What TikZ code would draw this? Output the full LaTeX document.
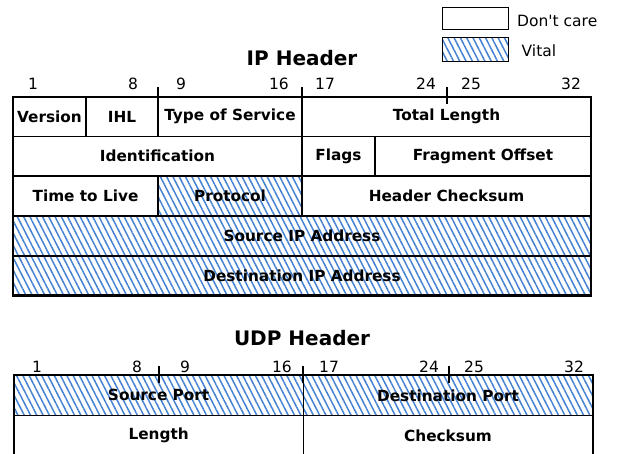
\documentclass[tikz,border=0pt]{standalone}
\usepackage{fontspec}
\setmainfont{DejaVu Sans}[Ligatures=TeXOff]
\usetikzlibrary{patterns.meta}
\definecolor{hatchblue}{RGB}{70,130,210}
\tikzset{
  lab/.style={font=\bfseries\fontsize{15.3}{18}\selectfont, inner sep=0pt},
  num/.style={font=\fontsize{15.5}{18}\selectfont, inner sep=0pt, anchor=base},
  ttl/.style={font=\bfseries\fontsize{20}{23}\selectfont, inner sep=0pt},
  cellline/.style={draw=black, line width=1.2pt},
  vital/.style={pattern={Lines[angle=-63,distance=5.6pt,line width=1.5pt]}, pattern color=hatchblue},
  outerline/.style={draw=black, line width=2.2pt},
  tickline/.style={draw=black, line width=2pt},
  legbox/.style={draw=black, line width=1pt},
}
\newcommand\fld[7]{%
  \path[#6] (#2,#3) rectangle (#4,#5);
  \node[lab] (#1) at ({(#2+#4)/2},{(#3+#5)/2}) {#7};}
\begin{document}
\begin{tikzpicture}[x=1pt,y=-1pt]
\useasboundingbox (0,0) rectangle (621,454);
% legend
\path[legbox] (442,8) rectangle (508,30);
\node[num, anchor=base west] (lgdc) at (517,26.5) {Don't care};
\path[vital,legbox] (442,38) rectangle (508,62);
\node[num, anchor=base west] (lgvt) at (521.5,56.5) {Vital};
% IP header
\node[ttl] (iptitle) at (302,58) {IP Header};
\node[num] (ip1) at (33,90) {1};
\node[num] (ip8) at (133,90) {8};
\node[num] (ip9) at (181,90) {9};
\node[num] (ip16) at (279,90) {16};
\node[num] (ip17) at (325,90) {17};
\node[num] (ip24) at (426,90) {24};
\node[num] (ip25) at (471,90) {25};
\node[num] (ip32) at (571,90) {32};
\fld{ver}{13}{97}{86}{136.5}{cellline}{Version}
\fld{ihl}{86}{97}{158}{136.5}{cellline}{IHL}
\fld{tos}{158}{97}{302}{136.5}{cellline}{Type of Service}
\fld{tlen}{302}{97}{591}{136.5}{cellline}{Total Length}
\fld{ident}{13}{136.5}{302}{176}{cellline}{Identification}
\fld{flags}{302}{136.5}{375}{176}{cellline}{Flags}
\fld{frag}{375}{136.5}{591}{176}{cellline}{Fragment Offset}
\fld{ttl}{13}{176}{158}{216}{cellline}{Time to Live}
\fld{proto}{158}{176}{302}{216}{vital,cellline}{Protocol}
\fld{hcs}{302}{176}{591}{216}{cellline}{Header Checksum}
\fld{srcip}{13}{216}{591}{256}{vital,cellline}{Source IP Address}
\fld{dstip}{13}{256}{591}{295.5}{vital,cellline}{Destination IP Address}
\path[outerline] (13,97) rectangle (591,295.5);
\path[tickline] (158,87) -- (158,104);
\path[tickline] (302,87) -- (302,104);
\path[tickline] (446.5,87) -- (446.5,104);
% UDP header
\node[ttl] (udptitle) at (302,338) {UDP Header};
\node[num] (u1) at (37,372.5) {1};
\node[num] (u8) at (137,372.5) {8};
\node[num] (u9) at (185,372.5) {9};
\node[num] (u16) at (282,372.5) {16};
\node[num] (u17) at (329,372.5) {17};
\node[num] (u24) at (429,372.5) {24};
\node[num] (u25) at (474,372.5) {25};
\node[num] (u32) at (574,372.5) {32};
\fld{sport}{14}{375}{303.3}{415.7}{vital,cellline}{Source Port}
\fld{dport}{303.3}{375}{592.7}{415.7}{vital,cellline}{Destination Port}
\fld{ulen}{14}{415.7}{303.3}{455.5}{cellline}{Length}
\fld{ucs}{303.3}{415.7}{592.7}{455.5}{cellline}{Checksum}
\path[outerline] (14,375) rectangle (592.7,455.5);
\path[tickline] (158.7,366) -- (158.7,383);
\path[tickline] (303.3,366) -- (303.3,383);
\path[tickline] (449,366) -- (449,383);
\end{tikzpicture}
\end{document}
